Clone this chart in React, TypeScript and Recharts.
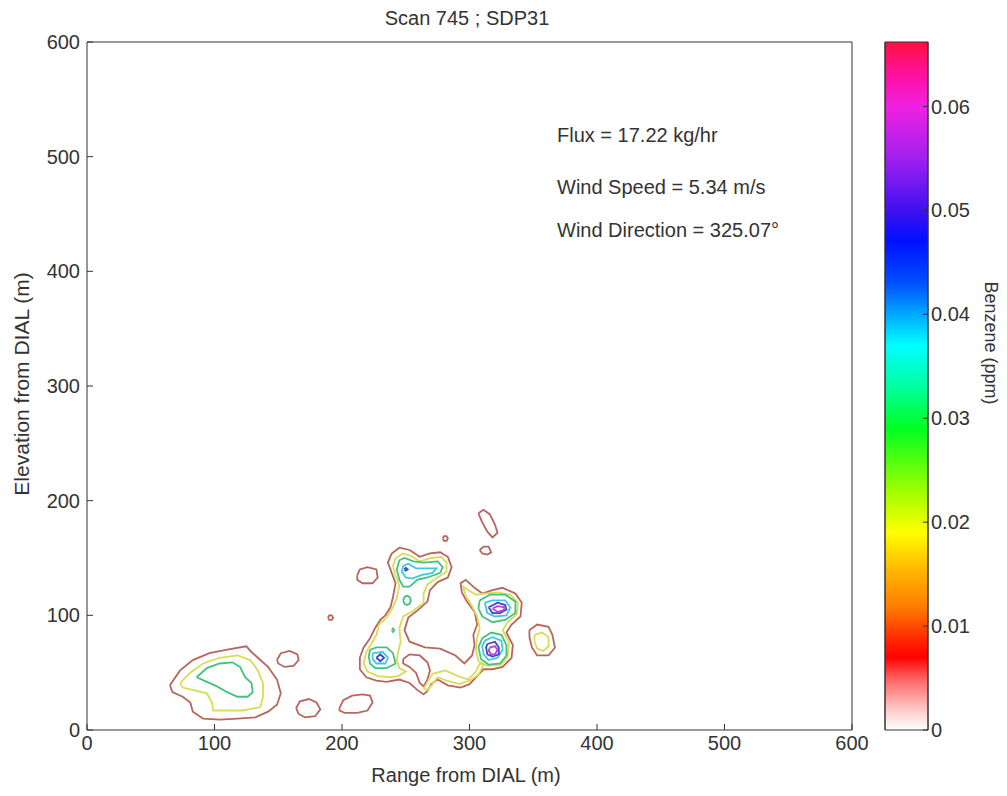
import React from 'react';
import { ScatterChart, Scatter, XAxis, YAxis, BarChart, Bar } from 'recharts';

// contour rings, in metres (range, elevation)
const leftBlobOuter = [[65,39],[73,52],[83,61],[96,67],[110,70],[125,73],[129,68],[134,63],[142,55],[149,44],[152,32],[149,22],[142,16],[132,11],[118,10],[104,9],[91,10],[83,16],[81,24],[75,29],[67,33]];
const leftBlobMid = [[73,41],[81,50],[91,58],[104,63],[118,65],[128,61],[134,52],[138,41],[138,29],[136,20],[122,17],[107,17],[99,17],[98,24],[94,32],[83,35],[75,37]];
const leftBlobCore = [[86,46],[94,54],[104,58],[114,59],[120,55],[124,46],[129,41],[130,33],[126,29],[118,29],[110,33],[102,38],[94,42]];

const smallLoopA = [[149,61],[152,67],[159,69],[165,66],[166,61],[162,56],[155,55],[150,58]];
const smallLoopB = [[164,19],[167,25],[174,27],[180,24],[183,18],[179,12],[171,11],[166,14]];
const smallLoopC = [[198,19],[201,26],[208,30],[216,31],[222,30],[224,24],[220,17],[212,15],[202,15],[198,17]];
const smallLoopD = [[212,135],[214,140],[220,142],[227,140],[228,133],[224,128],[216,128],[212,131]];
const speckA = [[189,98],[190,100],[192,100],[193,98],[192,96],[190,96]];
const speckB = [[279,167],[280,169],[282,169],[283,167],[282,165],[280,165]];
const upperLoopA = [[307,189],[311,192],[316,188],[320,179],[322,172],[318,168],[314,173],[310,181]];
const upperLoopB = [[308,157],[311,160],[315,160],[317,155],[314,153],[310,154]];
const eastLoop = [[347,87],[353,92],[362,90],[365,83],[367,72],[362,65],[353,65],[349,72],[347,81]];
const eastLoopMid = [[351,83],[357,85],[362,81],[362,73],[358,69],[353,71],[351,77]];

const mainOuter = [[239,154],[245,159],[253,157],[261,151],[269,154],[277,155],[283,151],[286,142],[283,133],[275,129],[269,122],[267,112],[260,105],[252,98],[249,87],[253,77],[265,72],[277,71],[289,65],[296,58],[302,65],[304,74],[303,83],[306,92],[304,103],[298,112],[294,120],[293,128],[297,131],[304,124],[310,119],[318,122],[326,124],[336,119],[341,111],[340,99],[333,92],[329,85],[334,74],[333,63],[326,55],[318,53],[311,53],[306,47],[300,40],[293,37],[283,39],[275,44],[270,40],[267,34],[264,31],[259,35],[253,41],[245,44],[235,42],[227,43],[219,46],[214,53],[214,63],[217,72],[222,80],[226,89],[230,96],[234,100],[238,107],[240,116],[242,128],[239,137],[236,146]];
const mainHole = [[248,62],[253,66],[261,65],[267,59],[269,52],[267,44],[264,38],[261,41],[258,50],[253,55],[248,58]];
const centralMid = [[242,150],[248,154],[254,152],[261,147],[270,150],[278,151],[282,146],[282,138],[275,133],[267,127],[264,119],[264,111],[256,104],[248,99],[245,89],[246,77],[244,68],[243,61],[245,54],[250,51],[244,47],[238,46],[228,47],[220,51],[217,58],[219,68],[223,75],[227,83],[229,92],[235,98],[239,105],[243,115],[245,126],[242,135],[240,143]];
const lowerArmMid = [[264,36],[267,42],[271,49],[281,52],[291,47],[299,44],[305,51],[308,58],[311,57],[307,48],[300,43],[292,40],[282,43],[275,46],[271,40],[267,35]];
const eastPairMid = [[299,122],[305,118],[312,119],[322,120],[332,118],[338,111],[337,101],[330,94],[326,87],[331,77],[330,64],[325,57],[314,56],[307,60],[305,70],[306,80],[308,89],[306,99],[302,108],[297,117],[295,125]];

const northLobeCore = [[245,148],[249,150],[256,147],[264,146],[275,147],[279,142],[277,137],[267,133],[259,131],[253,125],[248,125],[245,131],[243,140]];
const northLobeInner = [[248,143],[252,145],[258,141],[268,141],[274,141],[271,137],[262,135],[255,132],[250,133],[247,138]];
const northLobePeak = [[249,140],[250,141.5],[251.5,140],[250,139]];
const midSpot = [[248,113],[249,116],[251,117],[253,116],[254,113],[253,110],[251,109],[249,110]];
const greenSpeck = [[239,87],[240,88.5],[241,87],[240,85.5]];
const southLobeCore = [[222,70],[227,72],[235,72],[240,67],[242,58],[235,54],[226,54],[222,58],[221,64]];
const southLobeInner = [[224,67],[232,68],[236,63],[234,58],[227,58],[224,62]];
const southLobePeak = [[227,63],[230,66],[233,63],[230,60]];

const eastUpperGreen = [[308,113],[316,118],[328,118],[336,112],[336,102],[328,96],[318,94],[310,99],[307,106]];
const eastUpperCyan = [[312,111],[318,113],[328,113],[332,107],[329,100],[320,99],[314,102]];
const eastUpperBlue = [[315,107],[322,111],[328,109],[329,105],[324,102],[318,102]];
const eastUpperMagenta = [[318,106],[322,108],[328,107],[326,104],[322,103]];
const eastLowerGreen = [[310,80],[317,85],[325,83],[329,74],[329,65],[324,58],[315,57],[309,62],[307,72]];
const eastLowerCyan = [[312,78],[318,81],[325,78],[326,70],[322,63],[315,61],[311,66],[310,73]];
const eastLowerBlue = [[314,75],[320,77],[323,72],[323,66],[318,64],[314,66],[313,72]];
const eastLowerMagenta = [[316,72],[320,73],[322,70],[320,66],[317,66],[315,69]];

const axisTicks = [0, 100, 200, 300, 400, 500, 600];
const barTicks = [0, 0.01, 0.02, 0.03, 0.04, 0.05, 0.06];
const barMax = 0.0662;
const colorbarData = [{ name: 'Benzene', value: barMax }];

// colormap stops (ppm -> colour)
const colormap: [number, string][] = [
  [0.0662, '#ff1040'], [0.063, '#ff10a0'], [0.06, '#f020e0'], [0.055, '#a020f0'],
  [0.05, '#4010f0'], [0.047, '#0010ff'], [0.043, '#0050ff'], [0.04, '#00a8ff'],
  [0.037, '#00ffff'], [0.033, '#00ffa0'], [0.029, '#00ff20'], [0.023, '#a0ff00'],
  [0.019, '#ffff00'], [0.015, '#ffb000'], [0.012, '#ff8000'], [0.009, '#ff3000'],
  [0.007, '#ff0000'], [0.005, '#ff6060'], [0.002, '#ffc8c8'], [0, '#ffffff'],
];

const levelColor = {
  red: '#b8665c',
  yellow: '#d8dc58',
  green: '#44c27c',
  cyan: '#40c8e0',
  blue: '#3848d8',
  magenta: '#c838d0',
};

const contours: { pts: number[][]; level: keyof typeof levelColor }[] = [
  { pts: leftBlobOuter, level: 'red' },
  { pts: leftBlobMid, level: 'yellow' },
  { pts: leftBlobCore, level: 'green' },
  { pts: smallLoopA, level: 'red' },
  { pts: smallLoopB, level: 'red' },
  { pts: smallLoopC, level: 'red' },
  { pts: smallLoopD, level: 'red' },
  { pts: speckA, level: 'red' },
  { pts: speckB, level: 'red' },
  { pts: upperLoopA, level: 'red' },
  { pts: upperLoopB, level: 'red' },
  { pts: eastLoop, level: 'red' },
  { pts: eastLoopMid, level: 'yellow' },
  { pts: mainOuter, level: 'red' },
  { pts: mainHole, level: 'red' },
  { pts: centralMid, level: 'yellow' },
  { pts: lowerArmMid, level: 'yellow' },
  { pts: eastPairMid, level: 'yellow' },
  { pts: northLobeCore, level: 'green' },
  { pts: northLobeInner, level: 'cyan' },
  { pts: northLobePeak, level: 'blue' },
  { pts: midSpot, level: 'green' },
  { pts: greenSpeck, level: 'green' },
  { pts: southLobeCore, level: 'green' },
  { pts: southLobeInner, level: 'cyan' },
  { pts: southLobePeak, level: 'blue' },
  { pts: eastUpperGreen, level: 'green' },
  { pts: eastUpperCyan, level: 'cyan' },
  { pts: eastUpperBlue, level: 'blue' },
  { pts: eastUpperMagenta, level: 'magenta' },
  { pts: eastLowerGreen, level: 'green' },
  { pts: eastLowerCyan, level: 'cyan' },
  { pts: eastLowerBlue, level: 'blue' },
  { pts: eastLowerMagenta, level: 'magenta' },
];

const toRing = (pts: number[][]) => [...pts, pts[0]].map(([x, y]) => ({ x, y }));
const NoDot = () => <g />;

const FONT = '"Liberation Sans", Arial, sans-serif';
const TEXT = '#333';
const tickStyle = { fontSize: 20, fill: TEXT, fontFamily: FONT };

const abs = (left: number, top: number, extra: React.CSSProperties = {}): React.CSSProperties => ({
  position: 'absolute',
  left,
  top,
  fontSize: 20,
  color: TEXT,
  whiteSpace: 'nowrap',
  ...extra,
});

export default function App() {
  return (
    <div style={{ position: 'relative', width: 1007, height: 796, margin: '-8px 0 0 -8px', background: '#fff', fontFamily: FONT }}>
      <div style={abs(467, 18, { transform: 'translate(-50%, -50%)' })}>Scan 745 ; SDP31</div>

      <div style={{ position: 'absolute', left: 0, top: 0 }}>
        <ScatterChart width={870} height={796} margin={{ top: 41, right: 17, bottom: 16, left: 27 }}>
          <XAxis
            type="number"
            dataKey="x"
            domain={[0, 600]}
            ticks={axisTicks}
            interval={0}
            height={50}
            tickSize={-6}
            tickMargin={12}
            tick={tickStyle}
            axisLine={{ stroke: TEXT }}
            tickLine={{ stroke: TEXT }}
          />
          <XAxis xAxisId="top" orientation="top" type="number" dataKey="x" domain={[0, 600]} ticks={axisTicks} interval={0} height={1} tickSize={-6} tick={false} axisLine={{ stroke: TEXT }} tickLine={{ stroke: TEXT }} />
          <YAxis
            type="number"
            dataKey="y"
            domain={[0, 600]}
            ticks={axisTicks}
            interval={0}
            width={60}
            tickSize={-6}
            tickMargin={13}
            tick={tickStyle}
            axisLine={{ stroke: TEXT }}
            tickLine={{ stroke: TEXT }}
          />
          <YAxis yAxisId="right" orientation="right" type="number" dataKey="y" domain={[0, 600]} ticks={axisTicks} interval={0} width={1} tickSize={-6} tick={false} axisLine={{ stroke: TEXT }} tickLine={{ stroke: TEXT }} />
          {contours.map((c, i) => (
            <Scatter
              key={i}
              data={toRing(c.pts)}
              fill={levelColor[c.level]}
              line={{ stroke: levelColor[c.level], strokeWidth: 1.8 }}
              lineJointType="linear"
              shape={NoDot}
              isAnimationActive={false}
            />
          ))}
          {/* empty series that binds the frame axes on the top and right */}
          <Scatter xAxisId="top" yAxisId="right" data={[]} shape={NoDot} isAnimationActive={false} />
        </ScatterChart>
      </div>

      <div style={abs(557, 135, { transform: 'translateY(-50%)' })}>Flux = 17.22 kg/hr</div>
      <div style={abs(557, 187, { transform: 'translateY(-50%)' })}>Wind Speed = 5.34 m/s</div>
      <div style={abs(557, 230, { transform: 'translateY(-50%)' })}>Wind Direction = 325.07°</div>

      <div style={abs(22, 384, { fontSize: 21, transform: 'translate(-50%, -50%) rotate(-90deg)' })}>Elevation from DIAL (m)</div>
      <div style={abs(466, 775, { transform: 'translate(-50%, -50%)' })}>Range from DIAL (m)</div>

      <div style={{ position: 'absolute', left: 870, top: 0 }}>
        <BarChart width={137} height={796} data={colorbarData} margin={{ top: 42, right: 19, bottom: 66, left: 14 }} barCategoryGap={0}>
          <defs>
            <linearGradient id="cbGrad" x1="0" y1="0" x2="0" y2="1">
              {colormap.map(([v, col]) => (
                <stop key={v} offset={1 - v / barMax} stopColor={col} />
              ))}
            </linearGradient>
          </defs>
          <XAxis dataKey="name" hide />
          <YAxis yAxisId="l" orientation="left" type="number" domain={[0, barMax]} ticks={barTicks} interval={0} width={1} tickSize={-5} tick={false} axisLine={{ stroke: TEXT }} tickLine={{ stroke: TEXT }} />
          <YAxis
            yAxisId="r"
            orientation="right"
            type="number"
            domain={[0, barMax]}
            ticks={barTicks}
            interval={0}
            width={60}
            tickSize={-5}
            tickMargin={8}
            tick={tickStyle}
            tickFormatter={(v: number) => (v === 0 ? '0' : v.toFixed(2))}
            axisLine={{ stroke: TEXT }}
            tickLine={{ stroke: TEXT }}
          />
          <Bar yAxisId="r" dataKey="value" fill="url(#cbGrad)" stroke={TEXT} strokeWidth={1} isAnimationActive={false} />
        </BarChart>
      </div>

      <div style={abs(990, 343, { fontSize: 18, transform: 'translate(-50%, -50%) rotate(90deg)' })}>Benzene (ppm)</div>
    </div>
  );
}
